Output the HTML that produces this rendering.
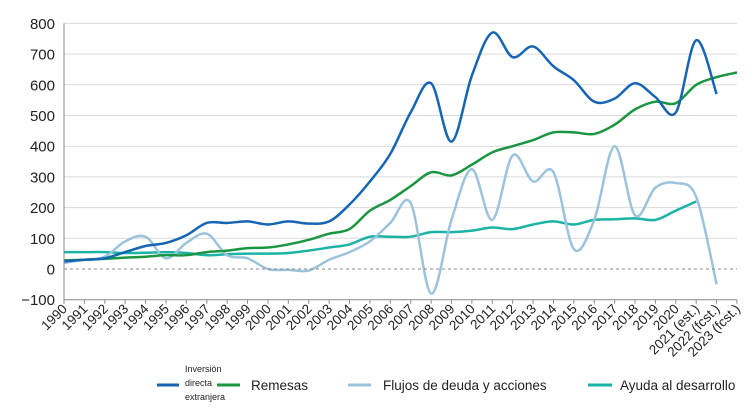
<!DOCTYPE html>
<html><head><meta charset="utf-8"><style>
body{margin:0;background:#fff;font-family:"Liberation Sans",sans-serif}
svg text{font-family:"Liberation Sans",sans-serif;fill:#222}
</style></head><body>
<svg width="754" height="412" id="c">
<g id="grid"></g><g id="series"></g><g id="axes"></g>
<g>
<g><line x1="157" y1="385" x2="179" y2="385" stroke="#1565b4" stroke-width="3"/><text x="185" y="372" font-size="9">Inversión</text><text x="185" y="386" font-size="9">directa</text><text x="185" y="400" font-size="9">extranjera</text></g>
<g><line x1="217" y1="385" x2="240" y2="385" stroke="#1a9641" stroke-width="3"/><text x="251" y="390" font-size="13.5">Remesas</text></g>
<g><line x1="348" y1="385" x2="371" y2="385" stroke="#9cc3dc" stroke-width="3"/><text x="383" y="390" font-size="13.5">Flujos de deuda y acciones</text></g>
<g><line x1="588" y1="385" x2="612" y2="385" stroke="#1ab3a6" stroke-width="3"/><text x="620" y="390" font-size="13.5">Ayuda al desarrollo</text></g>
</g>
</svg>
<script>
const categories=["1990","1991","1992","1993","1994","1995","1996","1997","1998","1999","2000","2001","2002","2003","2004","2005","2006","2007","2008","2009","2010","2011","2012","2013","2014","2015","2016","2017","2018","2019","2020","2021 (est.)","2022 (fcst.)","2023 (fcst.)"];
const fdi=[25,30,35,55,75,85,110,150,150,155,145,155,148,155,210,285,375,510,605,415,630,770,690,725,660,615,545,555,605,560,510,745,570];
const remesas=[28,30,33,37,40,45,45,55,60,68,70,80,95,115,130,190,225,270,315,305,340,380,400,420,445,445,440,470,520,545,540,600,625,640];
const deuda=[20,30,40,90,105,35,85,115,45,35,0,-3,-5,30,55,90,150,215,-80,160,325,160,370,285,315,65,160,400,175,265,280,235,-50];
const ayuda=[55,55,55,52,53,55,52,45,48,50,50,52,60,70,80,105,105,105,120,120,125,135,130,145,155,145,160,162,165,160,190,220];
const yTicks=[-100,0,100,200,300,400,500,600,700,800];
const X0=64,X1=737,Y0=269,PX=0.307;
const x=i=>X0+i*(X1-X0)/(categories.length-1);
const y=v=>Y0-v*PX;
const NS="http://www.w3.org/2000/svg";
function mk(t,a,p){const e=document.createElementNS(NS,t);for(const k in a)e.setAttribute(k,a[k]);p.appendChild(e);return e;}
const grid=document.getElementById('grid'),axes=document.getElementById('axes'),ser=document.getElementById('series');
yTicks.forEach(v=>{
 if(v>0){const g=mk('line',{x1:X0,x2:X1,y1:y(v),y2:y(v),stroke:'#d9d9d9','stroke-width':1},grid);
 
 }
 const t=mk('text',{x:55,y:y(v)+5.5,'text-anchor':'end','font-size':15},axes);t.textContent=v<0?'\u2212'+(-v):v;
 
 
});
const z=mk('line',{x1:X0,x2:X1,y1:y(0),y2:y(0),stroke:'#888','stroke-dasharray':'3,3'},axes);


const ya=mk('line',{x1:X0,x2:X0,y1:y(800),y2:y(-100),stroke:'#888'},axes);


const xa=mk('line',{x1:X0,x2:X1,y1:y(-100),y2:y(-100),stroke:'#888'},axes);


categories.forEach((c,i)=>{
 mk('line',{x1:x(i),x2:x(i),y1:y(-100),y2:y(-100)+4,stroke:'#888'},axes);
 const t=mk('text',{x:x(i)+4,y:y(-100)+10,'text-anchor':'end','font-size':13.5,transform:`rotate(-45 ${x(i)+4} ${y(-100)+10})`},axes);
 t.textContent=c;
 
 
});
function path(d){const p=d.map((v,i)=>[x(i),y(v)]);let s=`M${p[0][0]},${p[0][1]}`;
 for(let i=0;i<p.length-1;i++){const a=p[i-1]||p[i],b=p[i],c=p[i+1],e=p[i+2]||c;
 s+=` C${b[0]+(c[0]-a[0])/6},${b[1]+(c[1]-a[1])/6} ${c[0]-(e[0]-b[0])/6},${c[1]-(e[1]-b[1])/6} ${c[0]},${c[1]}`;}return s;}
[[ayuda,'#1ab3a6','line-ayuda'],[deuda,'#9cc3dc','line-deuda'],[remesas,'#1a9641','line-remesas'],[fdi,'#1565b4','line-fdi']].forEach(([d,col,n])=>{
 const p=mk('path',{d:path(d),fill:'none',stroke:col,'stroke-width':2.5},ser);
 
 
});
</script>
</body></html>
